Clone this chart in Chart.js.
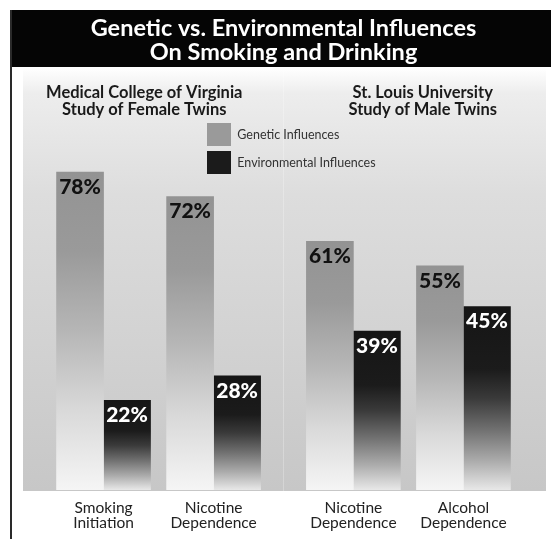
<!DOCTYPE html>
<html>
<head>
<meta charset="utf-8">
<title>Genetic vs. Environmental Influences</title>
<script src="https://cdn.jsdelivr.net/npm/chart.js@4/dist/chart.umd.min.js"></script>
<style>
    body { margin: 0; background: #fff; }
    canvas { display: block; }
</style>
</head>
<body>
<canvas id="influenceChart" width="551" height="539"></canvas>
<script>
const chartTitle = ['Genetic vs. Environmental Influences', 'On Smoking and Drinking'];
const studies = [
    ['Medical College of Virginia', 'Study of Female Twins'],
    ['St. Louis University', 'Study of Male Twins']
];
const categories = [
    ['Smoking', 'Initiation'],
    ['Nicotine', 'Dependence'],
    ['Nicotine', 'Dependence'],
    ['Alcohol', 'Dependence']
];
const categoryStudy = [0, 0, 1, 1];
const seriesNames = ['Genetic Influences', 'Environmental Influences'];
const genetic = [78, 72, 61, 55];
const environmental = [22, 28, 39, 45];

// extra space between the two studies, in category widths
const studyGap = 0.27;
const xPos = categories.map((c, i) => i + categoryStudy[i] * studyGap);

const swatches = ['#9a9a9a', '#1b1b1b'];
const geneticStops = [[0, '#939393'], [0.25, '#9a9a9a'], [0.5, '#b6b6b6'], [0.75, '#d9d9d9'], [1, '#f5f5f5']];
const envStops = [[0, '#151515'], [0.34, '#1b1b1b'], [0.5, '#3a3a3a'], [0.67, '#707070'], [0.84, '#ababab'], [1, '#e8e8e8']];

function barFill(stops, solid) {
    return function (context) {
        const chart = context.chart;
        if (context.type !== 'data' || !chart.chartArea) {
            return solid;
        }
        const y = chart.scales.y;
        const top = y.getPixelForValue(context.parsed.y);
        const bottom = y.getPixelForValue(0);
        const g = chart.ctx.createLinearGradient(0, top, 0, bottom);
        stops.forEach(s => g.addColorStop(s[0], s[1]));
        return g;
    };
}

// black title bar, border and the two grey study panels
const framePlugin = {
    id: 'frame',
    beforeDraw(chart) {
        const ctx = chart.ctx;
        const area = chart.chartArea;
        const x = chart.scales.x;
        ctx.save();
        ctx.fillStyle = '#fff';
        ctx.fillRect(0, 0, chart.width, chart.height);

        ctx.fillStyle = '#050505';
        ctx.fillRect(10, 10, chart.width - 10, 57);
        ctx.fillStyle = '#2a2a2a';
        ctx.fillRect(10, 10, 2, chart.height - 10);

        const split = x.getPixelForValue((xPos[1] + xPos[2]) / 2);
        const panels = [[area.left + 2, split], [split, area.right]];
        const g = ctx.createLinearGradient(0, 68, 0, area.bottom);
        g.addColorStop(0, '#ffffff');
        g.addColorStop(0.06, '#ededed');
        g.addColorStop(0.3, '#dddddd');
        g.addColorStop(1, '#c7c7c7');
        ctx.fillStyle = g;
        panels.forEach(p => ctx.fillRect(p[0], 68, p[1] - p[0], area.bottom + 1 - 68));

        // study headings
        ctx.fillStyle = '#1a1a1a';
        ctx.font = 'bold 16.5px Lato';
        ctx.textAlign = 'center';
        ctx.textBaseline = 'middle';
        const headAt = [0.37, 2.9];
        studies.forEach((lines, s) => {
            const cx = x.getPixelForValue(headAt[s]);
            lines.forEach((line, j) => ctx.fillText(line, cx, 93 + j * 17));
        });
        ctx.restore();
    },
    afterLayout(chart) {
        chart.legend.left = 202;
        chart.legend.top = 118;
    }
};

// percentage printed inside the top of each bar
const valuePlugin = {
    id: 'values',
    afterDatasetsDraw(chart) {
        const ctx = chart.ctx;
        ctx.save();
        ctx.font = '900 21px Lato';
        ctx.textAlign = 'center';
        ctx.textBaseline = 'middle';
        chart.data.datasets.forEach((ds, di) => {
            const meta = chart.getDatasetMeta(di);
            ctx.fillStyle = di === 0 ? '#111' : '#fff';
            meta.data.forEach((bar, i) => {
                ctx.fillText(ds.data[i].y + '%', bar.x, bar.y + 15);
            });
        });
        ctx.restore();
    }
};

const ctx = document.getElementById('influenceChart').getContext('2d');
const influenceChart = new Chart(ctx, {
    type: 'bar',
    data: {
        datasets: [
            {
                label: seriesNames[0],
                data: genetic.map((v, i) => ({ x: xPos[i], y: v })),
                backgroundColor: barFill(geneticStops, swatches[0]),
                barThickness: 47
            },
            {
                label: seriesNames[1],
                data: environmental.map((v, i) => ({ x: xPos[i], y: v })),
                backgroundColor: barFill(envStops, swatches[1]),
                barThickness: 47
            }
        ]
    },
    options: {
        responsive: false,
        animation: false,
        layout: { padding: { left: 21, right: 5, top: 0, bottom: 0 } },
        plugins: {
            title: {
                display: true,
                text: chartTitle,
                color: '#fff',
                font: { family: 'Lato', size: 23.5, weight: 'bold', lineHeight: 1.03 },
                padding: { top: 16, bottom: 18 }
            },
            legend: {
                position: 'chartArea',
                align: 'start',
                labels: {
                    boxWidth: 24,
                    boxHeight: 23,
                    padding: 5,
                    color: '#333',
                    font: { family: 'Lato', size: 12.5 },
                    generateLabels(chart) {
                        const items = Chart.defaults.plugins.legend.labels.generateLabels(chart);
                        items.forEach((item, i) => {
                            item.fillStyle = swatches[i];
                            item.strokeStyle = swatches[i];
                            item.lineWidth = 0;
                        });
                        return items;
                    }
                }
            },
            tooltip: { enabled: false }
        },
        scales: {
            x: {
                type: 'linear',
                offset: false,
                min: xPos[0] - 0.75,
                max: xPos[xPos.length - 1] + 0.75,
                grid: { display: false, drawTicks: false, offset: false },
                border: { display: false },
                ticks: {
                    autoSkip: false,
                    maxRotation: 0,
                    padding: 10,
                    color: '#222',
                    font: { family: 'Lato', size: 15.5, lineHeight: 1 },
                    callback: (value, index) => categories[index]
                },
                afterBuildTicks: scale => {
                    scale.ticks = xPos.map(v => ({ value: v }));
                },
                afterFit: scale => {
                    scale.height = 49;
                }
            },
            y: {
                display: false,
                min: 0,
                max: 100
            }
        }
    },
    plugins: [framePlugin, valuePlugin]
});
</script>
</body>
</html>
